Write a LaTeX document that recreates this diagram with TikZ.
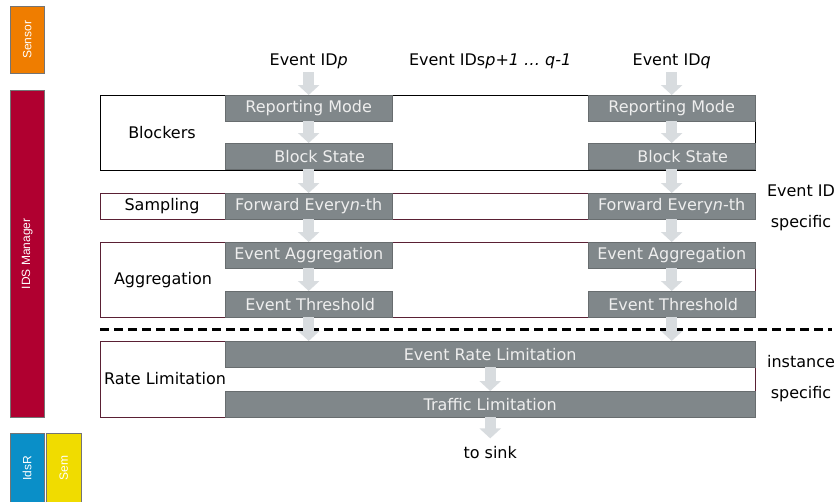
\documentclass[tikz,border=0pt]{standalone}
\usepackage{fontspec}
\setmainfont{DejaVu Sans}
\newfontfamily\barfont{Liberation Sans}
\usetikzlibrary{arrows.meta,positioning,calc}

\definecolor{stagefill}{HTML}{80878A}
\definecolor{stageline}{HTML}{686D6F}
\definecolor{stagetext}{HTML}{EEEEEE}
\definecolor{flowgrey}{HTML}{D8DCDF}
\definecolor{framered}{HTML}{5A2034}
\definecolor{barline}{HTML}{747474}
\definecolor{sensorc}{HTML}{EF7D00}
\definecolor{idsmc}{HTML}{B00030}
\definecolor{idsrc}{HTML}{0A8FC8}
\definecolor{semc}{HTML}{F0DC00}

\tikzset{
  bar/.style = {draw=barline, text=white, minimum width=34pt, inner sep=0pt,
                anchor=north west, font=\barfont\fontsize{12}{14}\selectfont},
  frame/.style = {draw=framered, minimum width=655pt, inner sep=0pt, anchor=north west},
  stage/.style = {draw=stageline, fill=stagefill, text=stagetext, minimum width=167pt,
                  minimum height=26pt, inner sep=0pt, anchor=north west},
  flow/.style = {draw=flowgrey, line width=11pt, -{Triangle[width=21pt,length=10pt]}},
  divider/.style = {line width=3pt, dash pattern=on 9pt off 5pt}
}

\begin{document}
\begin{tikzpicture}[x=1pt, y=-1pt, font=\fontsize{16}{19}\selectfont]
\useasboundingbox (0,0) rectangle (837,501);

% side bars
\node[bar, fill=sensorc, minimum height=67pt] (sensor) at (10,6) {\rotatebox{90}{Sensor}};
\node[bar, fill=idsmc, minimum height=327pt] (idsm) at (10,90) {\rotatebox{90}{IDS Manager}};
\node[bar, fill=idsrc, minimum height=70pt] (idsr) at (10,433) {\rotatebox{90}{IdsR}};
\node[bar, fill=semc, minimum height=70pt, minimum width=35pt] (sem) at (46,433) {\rotatebox{90}{Sem}};

% frames
\node[frame, draw=black, minimum height=75pt] (blk) at (100,95) {};
\node[frame, minimum height=26pt] (smp) at (100,193) {};
\node[frame, minimum height=75pt] (agg) at (100,242) {};
\node[frame, minimum height=76pt] (rate) at (100,341) {};

\node (lblk) at (162,133) {Blockers};
\node (lsmp) at (162,206) {Sampling};
\node (lagg) at (163,280) {Aggregation};
\node (lrate) at (165,379) {Rate Limitation};

\coordinate (dl) at (100,329);
\coordinate (dr) at (832,329);
\draw[divider] (dl) -- (dr);

% per event ID columns
\foreach \col/\x in {1/225, 2/588} {
  \node[stage] (rm\col) at (\x,95) {Reporting Mode};
  \node[stage] (bs\col) at (\x,143) {\hspace*{22pt}Block State};
  \node[stage] (fw\col) at (\x,193) {Forward Every\textit{n}-th};
  \node[stage] (ea\col) at (\x,242) {Event Aggregation};
  \node[stage] (et\col) at (\x,291) {\hspace*{3pt}Event Threshold};
}
\node[stage, minimum width=530pt] (erl) at (225,341) {Event Rate Limitation};
\node[stage, minimum width=530pt] (tl) at (225,391) {Traffic Limitation};

\node[above=23pt of rm1] (evp) {Event ID\textit{p}};
\node[above=23pt of rm2] (evq) {Event ID\textit{q}};
\node[anchor=base] (evmid) at ($(evp.base)!0.5!(evq.base)$) {Event IDs\textit{p+1 … q-1}};
\node[below=25pt of tl] (sink) {to sink};

\node[align=center, font=\fontsize{16}{31}\selectfont] (idspec) at (801,207.5) {Event ID\\specific};
\node[align=center, font=\fontsize{16}{31}\selectfont] (instspec) at (801,378.5) {instance\\specific};

% flow arrows
\foreach \col in {1,2} {
  \draw[flow] (rm\col) -- (bs\col);
  \draw[flow] (bs\col) -- (fw\col);
  \draw[flow] (fw\col) -- (ea\col);
  \draw[flow] (ea\col) -- (et\col);
  \draw[flow] (et\col) -- (et\col |- erl.north);
}
\draw[flow] (evp) -- (rm1);
\draw[flow] (evq) -- (rm2);
\draw[flow] (erl) -- (tl);
\draw[flow, shorten >=4pt] (tl) -- (sink);
\end{tikzpicture}
\end{document}
